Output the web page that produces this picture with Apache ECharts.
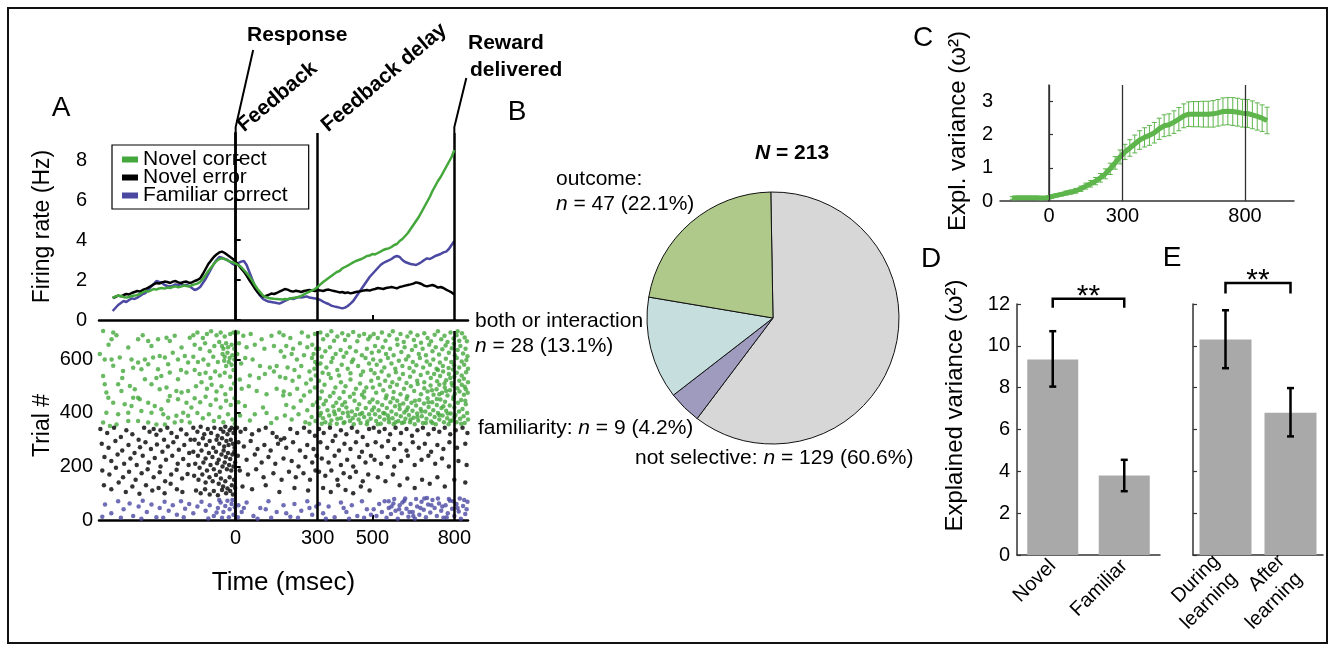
<!DOCTYPE html>
<html>
<head>
<meta charset="utf-8">
<script src="https://cdn.jsdelivr.net/npm/echarts@6/dist/echarts.min.js"></script>
<style>
html,body{margin:0;padding:0;background:#fff;}
#chart{width:1335px;height:650px;}
</style>
</head>
<body>
<div id="chart"></div>
<script>
// ---------- Panel A: mean firing rate (Hz), 10 ms bins ----------
const rateTimes = [
  -450,-440,-430,-420,-410,-400,-390,-380,-370,-360,
  -350,-340,-330,-320,-310,-300,-290,-280,-270,-260,
  -250,-240,-230,-220,-210,-200,-190,-180,-170,-160,
  -150,-140,-130,-120,-110,-100,-90,-80,-70,-60,
  -50,-40,-30,-20,-10,0,10,20,30,40,
  50,60,70,80,90,100,110,120,130,140,
  150,160,170,180,190,200,210,220,230,240,
  250,260,270,280,290,300,310,320,330,340,
  350,360,370,380,390,400,410,420,430,440,
  450,460,470,480,490,500,510,520,530,540,
  550,560,570,580,590,600,610,620,630,640,
  650,660,670,680,690,700,710,720,730,740,
  750,760,770,780,790,800
];
const rateNovelCorrect = [
  1.10,1.18,1.22,1.20,1.15,1.12,1.15,1.20,1.22,1.25,
  1.30,1.38,1.45,1.42,1.48,1.55,1.52,1.58,1.60,1.57,
  1.62,1.60,1.65,1.68,1.63,1.67,1.72,1.70,1.68,1.74,
  1.78,1.82,1.90,2.05,2.25,2.45,2.62,2.80,2.95,3.05,
  3.08,3.05,2.98,2.92,2.88,2.82,2.75,2.65,2.50,2.35,
  2.18,1.98,1.75,1.55,1.38,1.22,1.15,1.10,1.08,1.06,
  1.05,1.04,1.02,1.05,1.04,1.08,1.10,1.12,1.15,1.20,
  1.28,1.35,1.42,1.48,1.55,1.65,1.78,1.90,2.00,2.10,
  2.20,2.30,2.40,2.45,2.58,2.65,2.72,2.80,2.88,2.95,
  3.00,3.05,3.12,3.20,3.22,3.30,3.28,3.35,3.42,3.50,
  3.55,3.58,3.65,3.75,3.80,3.95,4.05,4.20,4.35,4.55,
  4.75,4.95,5.15,5.40,5.65,5.90,6.15,6.45,6.70,6.95,
  7.15,7.40,7.65,7.90,8.15,8.50
];
const rateNovelError = [
  1.10,1.15,1.22,1.18,1.25,1.30,1.28,1.35,1.40,1.45,
  1.42,1.50,1.55,1.62,1.70,1.78,1.85,1.82,1.88,1.92,
  1.90,1.85,1.92,1.95,1.88,1.85,1.90,1.92,1.86,1.88,
  1.95,2.00,2.08,2.30,2.55,2.80,2.98,3.15,3.28,3.38,
  3.42,3.35,3.25,3.15,3.05,2.92,2.75,2.58,2.42,2.22,
  2.00,1.80,1.58,1.40,1.25,1.18,1.20,1.25,1.32,1.30,
  1.35,1.42,1.48,1.55,1.52,1.45,1.42,1.46,1.44,1.40,
  1.45,1.48,1.50,1.47,1.45,1.50,1.48,1.45,1.50,1.52,
  1.48,1.45,1.42,1.38,1.40,1.35,1.38,1.33,1.36,1.40,
  1.42,1.45,1.48,1.50,1.47,1.52,1.55,1.60,1.58,1.55,
  1.60,1.62,1.65,1.62,1.58,1.65,1.68,1.72,1.75,1.78,
  1.82,1.88,1.85,1.80,1.72,1.68,1.72,1.75,1.70,1.62,
  1.65,1.60,1.52,1.45,1.38,1.28
];
const rateFamiliarCorrect = [
  0.45,0.60,0.75,0.85,0.95,0.90,1.00,1.08,1.05,1.12,
  1.20,1.30,1.35,1.50,1.65,1.80,1.95,1.90,1.85,1.75,
  1.70,1.68,1.72,1.78,1.75,1.80,1.72,1.76,1.70,1.60,
  1.50,1.55,1.65,1.85,2.05,2.30,2.55,2.80,3.00,3.15,
  3.12,3.05,3.00,2.90,2.80,2.75,2.85,2.92,2.95,2.75,
  2.40,2.05,1.70,1.40,1.20,1.05,0.98,0.92,0.90,0.88,
  0.85,0.82,0.88,0.95,1.02,1.08,1.05,1.10,1.15,1.12,
  1.15,1.18,1.12,1.10,1.08,1.05,1.00,0.92,0.85,0.80,
  0.72,0.68,0.65,0.62,0.58,0.62,0.70,0.82,0.95,1.15,
  1.35,1.55,1.75,1.95,2.15,2.30,2.45,2.60,2.75,2.85,
  2.92,2.98,3.05,3.15,3.20,3.15,3.00,2.90,2.85,2.80,
  2.78,2.75,2.82,2.90,3.00,3.08,3.05,3.12,3.20,3.25,
  3.30,3.38,3.42,3.55,3.75,3.95
];
const eventTimes = [0, 300, 800];
const rateTickValues = [0, 2, 4, 6, 8];
const timeTickLabels = [0, 300, 500, 800];
const trialTickValues = [0, 200, 400, 600];

// ---------- Panel A: spike raster [time (ms), trial #] ----------
const rasterNovelCorrect = [
  [-485,706],[-448,700],[-454,675],[-436,690],[-393,644],[-357,675],[-320,669],[-308,650],[-284,675],[-253,681],[-241,669],[-223,688],[-198,644],[-168,681],
  [-479,600],[-454,600],[-424,607],[-381,600],[-357,588],[-332,600],[-302,607],[-278,613],[-259,607],[-247,582],[-211,600],[-186,613],[-174,588],
  [-485,538],[-448,576],[-412,557],[-375,569],[-345,563],[-320,582],[-284,563],[-272,538],[-241,551],[-211,526],[-180,551],
  [-479,507],[-473,476],[-430,507],[-418,482],[-387,501],[-369,488],[-351,451],[-332,526],[-308,507],[-278,488],[-253,495],[-241,463],[-217,482],[-198,476],[-174,482],
  [-466,457],[-448,438],[-406,432],[-375,457],[-357,457],[-320,438],[-296,426],[-272,414],[-247,445],[-211,451],[-180,438],[-162,420],
  [-473,401],[-430,395],[-393,401],[-381,426],[-345,407],[-308,401],[-265,395],[-247,382],[-217,389],[-192,401],[-174,389],
  [-485,364],[-460,351],[-436,357],[-393,370],[-357,370],[-320,364],[-290,357],[-259,357],[-223,364],[-198,370],[-168,364],
  [-497,620],[-465,655],[-415,530],[-340,690],[-290,530],[-230,625],[-200,560],
  [-155,690],[-140,700],[-120,680],[-105,695],[-90,705],[-70,690],[-55,700],[-40,685],[-20,695],[-8,700],
  [-150,655],[-130,640],[-112,660],[-95,630],[-78,650],[-60,665],[-50,650],[-45,640],[-35,660],[-28,645],[-15,655],[-5,640],
  [-48,620],[-40,610],[-30,625],[-22,605],[-12,615],[-42,595],[-25,590],[-15,580],[-5,600],[-35,575],
  [-155,610],[-138,590],[-118,600],[-100,580],[-82,610],[-65,590],
  [-150,560],[-132,545],[-110,550],[-92,530],[-75,555],[-58,540],[-40,550],[-20,535],[-8,560],
  [-145,500],[-125,515],[-105,490],[-88,505],[-70,480],[-52,500],[-38,470],[-18,490],[-6,510],
  [-150,455],[-130,440],[-110,460],[-92,430],[-72,450],[-55,420],[-35,445],[-18,430],[-4,455],
  [-140,400],[-120,380],[-98,395],[-80,370],[-60,385],[-45,365],[-28,395],[-12,375],[-3,360],
  [8,700],[28,688],[55,695],[95,675],[131,688],[160,700],
  [12,660],[40,645],[70,655],[105,640],[140,650],[165,630],
  [6,620],[35,605],[62,600],[89,575],[125,570],[150,575],[20,585],
  [52,540],[85,530],[107,545],[140,555],[162,535],[15,525],
  [22,490],[48,500],[77,482],[113,470],[150,490],[174,465],
  [10,440],[34,426],[70,395],[100,420],[113,400],[150,380],[16,390],[52,372],[130,362],
  [175,690],[200,680],[242,700],[265,685],[290,695],
  [185,650],[210,640],[235,660],[262,645],[280,655],[295,640],
  [178,610],[205,620],[224,600],[250,615],[279,605],[291,590],[285,620],
  [190,570],[215,560],[240,575],[270,555],[288,565],[298,580],
  [182,530],[208,520],[232,535],[258,510],[275,525],[293,540],
  [176,480],[198,470],[225,490],[250,465],[272,480],[290,495],
  [185,430],[212,420],[238,445],[262,410],[282,430],[297,440],
  [180,390],[205,375],[230,395],[255,365],[278,385],[292,370],[270,360],
  [310,700],[335,690],[350,705],[372,685],[390,698],[412,690],[430,702],[452,688],[470,695],[492,685],[320,675],[360,670],[400,672],[445,668],[485,675],
  [305,640],[328,630],[345,645],[366,620],[384,635],[405,625],[418,645],[440,630],[462,615],[480,640],[498,625],[315,610],[355,605],[395,610],[430,600],[475,605],
  [310,585],[332,570],[350,590],[372,560],[388,580],[410,565],[425,590],[448,575],[466,555],[488,585],[318,550],[340,545],[378,540],[420,548],[458,542],[495,560],
  [305,520],[325,505],[348,530],[365,495],[385,515],[402,500],[420,525],[440,490],[455,510],[478,495],[496,520],[315,480],[358,475],[395,478],[432,472],[470,480],
  [308,455],[330,445],[345,462],[368,438],[380,455],[400,440],[418,460],[435,445],[452,432],[470,458],[490,440],[322,432],[390,430],[462,468],
  [303,420],[312,400],[320,380],[328,365],[336,410],[342,390],[350,372],[357,425],[363,395],[370,360],[378,412],[385,380],[392,400],[398,365],[405,420],
  [412,388],[418,370],[425,405],[432,358],[438,392],[445,415],[450,375],[457,362],[463,400],[470,385],[476,418],[482,368],[488,395],[494,378],[499,410],
  [315,360],[345,358],[372,378],[395,362],[428,380],[455,395],[480,358],[308,390],[360,405],[410,402],
  [505,695],[520,680],[535,700],[548,670],[562,690],[575,705],[590,675],[603,695],[615,665],[628,685],[640,700],[652,672],[665,690],[678,662],[690,698],
  [702,680],[715,668],[728,692],[740,705],[752,675],[764,688],[775,665],[786,700],[797,678],[808,690],[818,670],[828,698],[838,682],[846,668],[812,705],
  [510,650],[524,630],[538,645],[550,620],[565,640],[578,615],[592,655],[606,628],[618,645],[632,612],[645,635],[658,650],[670,620],[684,640],[696,615],
  [708,655],[720,630],[732,645],[744,618],[756,638],[768,652],[780,625],[791,642],[802,615],[812,635],[822,650],[832,622],[841,640],[848,612],[798,658],
  [503,600],[516,580],[530,595],[544,570],[557,605],[570,585],[584,565],[597,595],[610,575],[623,600],[636,568],[648,590],[661,578],[674,605],[686,570],[699,592],
  [711,580],[723,600],[735,565],[747,588],[758,575],[769,602],[779,568],[789,590],[799,578],[809,605],[818,570],[827,592],[836,580],[844,598],[850,565],[795,562],
  [508,548],[521,530],[534,555],[547,520],[560,540],[573,515],[586,552],[599,528],[612,545],[625,512],[638,535],[651,555],[664,520],[677,542],[690,515],[702,550],[714,530],
  [726,545],[737,518],[748,538],[759,555],[770,522],[780,545],[790,512],[800,535],[809,550],[818,520],[827,540],[835,528],[843,552],[850,515],[785,530],[764,510],[740,560],
  [502,495],[514,475],[527,505],[540,485],[552,465],[565,498],[578,478],[590,505],[603,470],[616,490],[628,462],[641,500],[653,482],[666,508],[678,470],[690,492],[702,480],[713,502],[724,468],
  [735,488],[745,505],[755,475],[765,495],[775,465],[784,485],[793,502],[802,472],[811,492],[819,480],[827,505],[835,468],[842,488],[849,475],[797,460],[770,482],[745,470],[718,485],[838,498],
  [501,450],[506,420],[510,395],[514,370],[519,440],[523,410],[527,385],[531,360],[536,430],[540,400],[544,375],[549,455],[553,418],[557,390],[561,365],[566,440],[570,405],[574,380],[578,358],
  [583,425],[587,395],[591,445],[595,370],[600,415],[604,388],[608,362],[613,435],[617,402],[621,378],[625,452],[630,420],[634,392],[638,365],[643,438],[647,408],[651,382],[655,358],
  [660,428],[664,398],[668,372],[672,448],[677,415],[681,388],[685,362],[689,435],[694,405],[698,378],[702,455],[706,422],[711,395],[715,368],[719,440],[723,410],[728,385],[732,358],
  [736,430],[740,400],[745,375],[749,450],[753,418],[757,390],[762,365],[766,442],[770,408],[774,380],[779,358],[783,428],[787,398],[791,372],[796,452],[800,420],[804,392],[808,365],
  [813,438],[817,405],[821,378],[825,448],[830,415],[834,388],[838,362],[842,432],[847,400],[850,375],[520,358],[560,378],[600,430],[640,375],[680,405],[720,362],[760,425],[800,385],
  [840,445],[545,398],[585,365],[625,410],[665,385],[705,440],[745,392],[785,370],[825,360],[576,455],[616,365],[656,445],[696,362],[736,452],[776,398]
];
const rasterNovelError = [
  [-495,340],[-470,325],[-445,345],[-420,310],[-400,335],[-378,320],[-355,300],[-335,345],[-315,330],[-300,340],[-290,318],[-275,335],[-262,300],[-250,345],[-235,325],[-215,310],[-200,338],[-180,320],[-165,300],
  [-490,285],[-465,270],[-440,295],[-415,260],[-392,280],[-370,250],[-350,272],[-330,290],[-310,265],[-288,282],[-268,255],[-248,275],[-228,290],[-208,262],[-188,280],[-170,250],
  [-480,235],[-455,220],[-432,245],[-408,210],[-385,230],[-362,205],[-340,240],[-318,215],[-296,232],[-275,200],[-255,225],[-232,240],[-212,210],[-192,228],[-172,205],
  [-488,185],[-462,170],[-438,195],[-412,160],[-390,180],[-366,150],[-344,175],[-322,190],[-300,160],[-278,178],[-258,145],[-236,170],[-216,188],[-196,155],[-176,172],
  [-482,130],[-455,115],[-428,140],[-402,105],[-378,125],[-352,98],[-328,130],[-305,110],[-282,120],[-260,100],[-238,135],[-215,115],[-195,105],
  [-155,345],[-140,330],[-128,348],[-115,320],[-102,340],[-90,325],[-78,345],[-66,315],[-55,340],[-45,330],[-38,348],[-30,320],[-22,335],[-15,345],[-8,325],[-3,340],
  [-150,300],[-135,285],[-120,305],[-108,280],[-95,295],[-82,270],[-70,300],[-60,285],[-50,305],[-42,275],[-34,295],[-26,280],[-18,300],[-10,285],[-4,270],
  [-155,255],[-138,240],[-125,260],[-110,230],[-98,250],[-85,235],[-72,255],[-62,225],[-52,245],[-44,260],[-36,235],[-28,250],[-20,228],[-12,245],[-5,255],
  [-148,210],[-132,195],[-118,215],[-105,185],[-92,205],[-80,190],[-68,212],[-58,180],[-48,200],[-40,215],[-32,190],[-24,205],[-16,185],[-8,200],[-2,215],
  [-152,165],[-136,150],[-122,170],[-110,140],[-96,160],[-84,145],[-72,168],[-62,135],[-54,155],[-46,125],[-38,145],[-30,118],[-22,160],[-14,130],[-6,150],[-2,120],
  [-145,110],[-128,100],[-112,115],[-95,95],[-80,108],[-65,92],[-50,112],[-35,100],[-20,108],[-10,95],
  [5,345],[18,330],[35,340],[60,320],[85,335],[110,345],[135,325],[150,310],[165,300],[178,305],[200,340],[225,325],[250,345],[270,330],[290,315],
  [10,290],[30,275],[55,295],[80,265],[105,280],[128,260],[155,285],[185,270],[210,290],[235,260],[262,280],[285,265],
  [8,240],[40,225],[70,245],[95,215],[120,235],[145,210],[175,230],[205,220],[230,200],[255,235],[280,215],[296,240],
  [15,185],[45,170],[75,190],[102,160],[138,175],[168,150],[195,180],[220,160],[248,175],[272,150],[292,185],
  [25,125],[60,115],[110,130],[160,105],[215,120],[265,110],
  [305,340],[322,325],[345,345],[365,315],[385,335],[405,320],[425,345],[445,330],[465,310],[488,340],
  [310,290],[335,270],[355,295],[378,260],[398,285],[420,265],[440,290],[462,255],[482,280],
  [315,230],[340,215],[362,240],[385,205],[408,225],[430,200],[452,235],[475,215],[495,240],
  [305,180],[328,165],[350,185],[372,150],[395,175],[418,160],[440,180],[465,145],[485,170],
  [320,120],[348,105],[375,130],[402,112],[430,100],[458,125],[490,110],
  [505,345],[525,330],[545,340],[565,320],[585,345],[605,325],[625,340],[645,315],[665,335],[685,345],[705,320],[725,340],[745,330],[765,345],[785,320],[805,335],[830,345],[848,325],
  [512,290],[535,275],[558,295],[580,265],[602,285],[625,260],[648,290],[670,270],[692,285],[715,255],[738,280],[760,265],[782,290],[810,270],[840,285],
  [508,225],[532,210],[556,235],[580,200],[605,220],[630,240],[655,205],[680,225],[705,240],[730,210],[755,230],[780,200],[815,220],[845,205],
  [520,160],[548,145],[575,170],[600,130],[628,155],[655,120],[682,150],[710,135],[738,160],[765,125],[800,150],[840,140]
];
const rasterFamiliarCorrect = [
  [-478,58],[-455,25],[-430,70],[-410,40],[-388,62],[-375,15],[-355,50],[-340,72],[-325,30],[-308,58],[-290,10],[-278,45],[-260,68],[-245,35],[-230,55],
  [-215,20],[-200,70],[-185,42],[-170,60],[-155,25],[-140,50],[-125,68],[-110,35],[-95,55],[-80,15],[-65,45],[-55,65],[-45,30],[-38,52],[-30,72],
  [-22,40],[-15,60],[-8,20],[-3,48],[-488,12],[-420,8],[-345,5],[-265,8],[-190,10],[-100,6],[-60,75],[-25,10],[-70,28],[-50,8],[-12,75],
  [10,55],[22,30],[40,65],[65,15],[90,45],[120,70],[150,30],[175,55],[200,12],[215,60],[240,35],[262,70],[280,20],[295,50],[8,10],[30,45],[80,5],[130,8],[185,25],[228,8],[270,45],[110,40],
  [305,60],[320,25],[340,50],[362,10],[385,65],[405,30],[425,55],[445,15],[462,70],[480,40],[495,20],[330,5],[415,5],[470,8],[395,45],
  [505,40],[515,15],[525,60],[535,30],[545,70],[552,8],[560,45],[568,22],[577,62],[585,35],[593,5],[600,55],[608,25],[617,72],[625,42],[632,12],[640,60],
  [648,30],[656,5],[664,50],[672,20],[680,68],[688,38],[696,10],[704,58],[712,28],[720,75],[728,45],[736,15],[744,62],[752,35],[760,8],[768,55],[776,25],
  [784,72],[792,42],[800,15],[808,60],[816,32],[824,5],[832,52],[840,22],[848,68],[580,78],[620,80],[660,78],[700,82],[740,80],[780,78],[820,80],[845,40],
  [560,70],[598,40],[636,30],[676,45],[716,55],[756,50],[796,70],[836,75],[772,10],[812,45],[690,80],[650,15],[610,65],[570,50]
];

// ---------- Panel B: neuron classification ----------
const pieNames = ['not selective', 'familiarity', 'both or interaction', 'outcome'];
const pieLabelHeads = ['not selective: ', 'familiarity: ', 'both or interaction\n', 'outcome:\n'];
const pieCounts = [129, 9, 28, 47];
const pieColors = ['#d7d7d7', '#9f9bbf', '#c7dedf', '#afc98a'];

// ---------- Panel C: explained variance over time ----------
const cTimes = [
  -150,-130,-110,-90,-70,-50,-30,-10,10,30,
  50,70,90,110,130,150,170,190,210,230,
  250,270,290,310,330,350,370,390,410,430,
  450,470,490,510,530,550,570,590,610,630,
  650,670,690,710,730,750,770,790,810,830,
  850,870,890
];
const cMean = [
  0.09,0.10,0.10,0.10,0.10,0.10,0.09,0.10,0.13,0.17,
  0.20,0.24,0.27,0.31,0.37,0.45,0.52,0.60,0.70,0.82,
  0.97,1.15,1.33,1.48,1.60,1.72,1.84,1.92,1.98,2.06,
  2.18,2.27,2.30,2.38,2.47,2.57,2.62,2.62,2.62,2.62,
  2.62,2.63,2.66,2.70,2.71,2.70,2.68,2.65,2.64,2.60,
  2.55,2.50,2.43
];
const cErr = [
  0.04,0.04,0.04,0.04,0.04,0.04,0.04,0.04,0.05,0.05,
  0.05,0.06,0.06,0.07,0.08,0.09,0.10,0.11,0.13,0.15,
  0.17,0.19,0.21,0.23,0.25,0.27,0.28,0.29,0.30,0.31,
  0.32,0.33,0.33,0.34,0.35,0.36,0.37,0.38,0.38,0.39,
  0.39,0.40,0.40,0.41,0.41,0.42,0.42,0.42,0.42,0.42,
  0.41,0.40,0.40
];
const cTickLabels = [0, 300, 800];
const cYTicks = [0, 1, 2, 3];

// ---------- Panels D and E: explained variance (bars with error bars) ----------
const dCategories = ['Novel', 'Familiar'];
const dMeans = [9.35, 3.8];
const dLow = [8.05, 3.05];
const dHigh = [10.7, 4.55];
const eCategories = ['During\nlearning', 'After\nlearning'];
const eMeans = [10.3, 6.8];
const eLow = [8.93, 5.67];
const eHigh = [11.7, 7.98];
const sigText = '**';

// ---------- styling ----------
const FONT = '"Liberation Sans", Arial, Helvetica, sans-serif';
const GREEN = '#43a73c';
const BLACK = '#000000';
const BLUE = '#4b48a2';
const C_GREEN = '#5db54b';
const BAR_GRAY = '#a9a9a9';
const DOT = 4.5;

function zip(xs, ys) { return xs.map((x, i) => [x, ys[i]]); }

const pieTotal = pieCounts.reduce((a, b) => a + b, 0);
const pieLabelPos = [[635, 458], [478, 428], [475, 334], [556, 192]];

function errorBarRenderer(color, width, cap) {
  return function (params, api) {
    const x = api.value(0);
    const lo = api.coord([x, api.value(1)]);
    const hi = api.coord([x, api.value(2)]);
    const st = { stroke: color, lineWidth: width };
    return {
      type: 'group',
      children: [
        { type: 'line', shape: { x1: lo[0], y1: lo[1], x2: hi[0], y2: hi[1] }, style: st },
        { type: 'line', shape: { x1: lo[0] - cap, y1: lo[1], x2: lo[0] + cap, y2: lo[1] }, style: st },
        { type: 'line', shape: { x1: hi[0] - cap, y1: hi[1], x2: hi[0] + cap, y2: hi[1] }, style: st }
      ]
    };
  };
}

function bracketRenderer(params, api) {
  const a = api.coord([api.value(0), api.value(2)]);
  const b = api.coord([api.value(1), api.value(2)]);
  const legA = api.coord([api.value(0), api.value(3)]);
  return {
    type: 'group',
    children: [
      { type: 'polyline', shape: { points: [[a[0], legA[1]], [a[0], a[1]], [b[0], b[1]], [b[0], legA[1]]] },
        style: { stroke: '#000', lineWidth: 2.5, fill: 'none' } },
      { type: 'text', x: (a[0] + b[0]) / 2, y: a[1] - 2,
        style: { text: sigText, fontSize: 30, fontFamily: FONT, fill: '#000', align: 'center', verticalAlign: 'middle' } }
    ]
  };
}

const vLine = (color, width) => ({
  silent: true, symbol: ['none', 'none'], label: { show: false },
  lineStyle: { color: color, width: width, type: 'solid' },
  emphasis: { disabled: true },
  data: eventTimes.map(t => ({ xAxis: t }))
});

const axisBlack = { lineStyle: { color: '#000', width: 2.5 } };
const axisGray = { lineStyle: { color: '#333', width: 1.5 } };
const labelStyle = { color: '#000', fontSize: 20, fontFamily: FONT };

const option = {
  animation: false,
  textStyle: { fontFamily: FONT, color: '#000' },
  grid: [
    { left: 99, top: 133, width: 369, height: 187 },
    { left: 99, top: 331, width: 369, height: 189 },
    { left: 1000, top: 85, width: 294, height: 116 },
    { left: 1017, top: 304, width: 143, height: 251 },
    { left: 1193, top: 304, width: 130, height: 251 }
  ],
  legend: {
    data: ['Novel correct', 'Novel error', 'Familiar correct'],
    orient: 'vertical', left: 112, top: 145,
    icon: 'rect', itemWidth: 16, itemHeight: 6, itemGap: -3,
    padding: [4, 21, 3, 10],
    borderColor: '#000', borderWidth: 1.2,
    selectedMode: false,
    textStyle: { fontSize: 21, color: '#000', fontFamily: FONT }
  },
  xAxis: [
    { gridIndex: 0, type: 'value', min: -500, max: 850,
      axisLine: axisBlack, splitLine: { show: false },
      axisTick: { inside: true, length: 5, lineStyle: { width: 2, color: '#000' }, customValues: [500] },
      axisLabel: { show: false } },
    { gridIndex: 1, type: 'value', min: -500, max: 850,
      axisLine: axisBlack, splitLine: { show: false },
      axisTick: { inside: true, length: 5, lineStyle: { width: 2, color: '#000' }, customValues: [500] },
      axisLabel: Object.assign({ margin: 8, customValues: timeTickLabels }, labelStyle),
      name: 'Time (msec)', nameLocation: 'middle', nameGap: 50,
      nameTextStyle: { fontSize: 26, color: '#000', fontFamily: FONT } },
    { gridIndex: 2, type: 'value', min: -200, max: 1000,
      axisLine: axisGray, splitLine: { show: false }, axisTick: { show: false },
      axisLabel: Object.assign({ margin: 5, customValues: cTickLabels }, labelStyle) },
    { gridIndex: 3, type: 'category', data: dCategories,
      axisLine: axisGray, axisTick: { show: false },
      axisLabel: Object.assign({ rotate: 45, margin: 8, interval: 0 }, labelStyle) },
    { gridIndex: 4, type: 'category', data: eCategories,
      axisLine: axisGray, axisTick: { show: false },
      axisLabel: Object.assign({ rotate: 45, margin: 12, interval: 0, lineHeight: 25 }, labelStyle) }
  ],
  yAxis: [
    { gridIndex: 0, type: 'value', min: 0, max: 9.35,
      axisLine: Object.assign({ show: true }, axisBlack), splitLine: { show: false },
      axisTick: { show: true, inside: true, length: 5, lineStyle: { width: 2, color: '#000' }, customValues: rateTickValues },
      axisLabel: Object.assign({ margin: 12, customValues: rateTickValues }, labelStyle),
      name: 'Firing rate (Hz)', nameLocation: 'middle', nameGap: 45,
      nameTextStyle: { fontSize: 23, color: '#000', fontFamily: FONT } },
    { gridIndex: 1, type: 'value', min: 0, max: 706,
      axisLine: Object.assign({ show: true }, axisBlack), splitLine: { show: false },
      axisTick: { show: true, inside: true, length: 5, lineStyle: { width: 2, color: '#000' }, customValues: [200, 400, 600] },
      axisLabel: Object.assign({ margin: 6, customValues: trialTickValues }, labelStyle),
      name: 'Trial #', nameLocation: 'middle', nameGap: 45,
      nameTextStyle: { fontSize: 23, color: '#000', fontFamily: FONT } },
    { gridIndex: 2, type: 'value', min: 0, max: 3.5,
      axisLine: Object.assign({ show: true }, axisGray), splitLine: { show: false },
      axisTick: { show: true, inside: true, length: 4, lineStyle: { width: 1.2, color: '#333' }, customValues: [1, 2, 3] },
      axisLabel: Object.assign({ margin: 7, customValues: cYTicks }, labelStyle),
      name: 'Expl. variance (ω²)', nameLocation: 'middle', nameGap: 30,
      nameTextStyle: { fontSize: 24, color: '#000', fontFamily: FONT, padding: [0, 0, 0, 24] } },
    { gridIndex: 3, type: 'value', min: 0, max: 12, interval: 2,
      axisLine: Object.assign({ show: true }, axisGray), splitLine: { show: false },
      axisTick: { show: true, inside: true, length: 4, lineStyle: { width: 1.2, color: '#333' } },
      axisLabel: Object.assign({ margin: 7 }, labelStyle),
      name: 'Explained variance (ω²)', nameLocation: 'middle', nameGap: 50,
      nameTextStyle: { fontSize: 24, color: '#000', fontFamily: FONT, padding: [0, 0, 0, 48] } },
    { gridIndex: 4, type: 'value', min: 0, max: 12, interval: 2,
      axisLine: Object.assign({ show: true }, axisGray), splitLine: { show: false },
      axisTick: { show: true, inside: true, length: 4, lineStyle: { width: 1.2, color: '#333' } },
      axisLabel: { show: false } }
  ],
  series: [
    // A: firing rates
    { name: 'Familiar correct', type: 'line', xAxisIndex: 0, yAxisIndex: 0, data: zip(rateTimes, rateFamiliarCorrect),
      showSymbol: false, color: BLUE, lineStyle: { width: 2.5 }, z: 3, silent: true },
    { name: 'Novel error', type: 'line', xAxisIndex: 0, yAxisIndex: 0, data: zip(rateTimes, rateNovelError),
      showSymbol: false, color: BLACK, lineStyle: { width: 2.5 }, z: 4, silent: true },
    { name: 'Novel correct', type: 'line', xAxisIndex: 0, yAxisIndex: 0, data: zip(rateTimes, rateNovelCorrect),
      showSymbol: false, color: GREEN, lineStyle: { width: 2.5 }, z: 5, silent: true,
      markLine: vLine('#000', 2.5) },
    // A: raster
    { name: 'Novel correct', type: 'scatter', xAxisIndex: 1, yAxisIndex: 1, data: rasterNovelCorrect,
      symbolSize: DOT, itemStyle: { color: GREEN }, silent: true },
    { name: 'Novel error', type: 'scatter', xAxisIndex: 1, yAxisIndex: 1, data: rasterNovelError,
      symbolSize: DOT, itemStyle: { color: BLACK }, silent: true },
    { name: 'Familiar correct', type: 'scatter', xAxisIndex: 1, yAxisIndex: 1, data: rasterFamiliarCorrect,
      symbolSize: DOT, itemStyle: { color: BLUE }, silent: true, markLine: vLine('#000', 2.5) },
    // B: pie
    { type: 'pie', center: [773, 318], radius: 126, startAngle: 91, clockwise: true, silent: true,
      data: pieNames.map((n, i) => ({ name: n, value: pieCounts[i], itemStyle: { color: pieColors[i] } })),
      itemStyle: { borderColor: '#111', borderWidth: 1 },
      label: {
        show: true, color: '#000', fontSize: 21, fontFamily: FONT, lineHeight: 25,
        formatter: p => pieLabelHeads[p.dataIndex] + '{i|n} = ' + p.value + ' (' + (p.value / pieTotal * 100).toFixed(1) + '%)',
        rich: { i: { fontStyle: 'italic', fontSize: 21, fontFamily: FONT, color: '#000', lineHeight: 25 } }
      },
      labelLine: { show: false },
      labelLayout: p => ({ x: pieLabelPos[p.dataIndex][0], y: pieLabelPos[p.dataIndex][1], align: 'left', verticalAlign: 'middle' })
    },
    // C: error bars + mean
    { type: 'custom', xAxisIndex: 2, yAxisIndex: 2, silent: true, z: 2,
      data: cTimes.map((t, i) => [t, cMean[i] - cErr[i], cMean[i] + cErr[i]]),
      encode: { x: 0, y: [1, 2] },
      renderItem: errorBarRenderer(C_GREEN, 1, 2.5) },
    { type: 'line', xAxisIndex: 2, yAxisIndex: 2, data: zip(cTimes, cMean), silent: true, z: 3,
      showSymbol: false, color: C_GREEN, lineStyle: { width: 5 },
      markLine: vLine('#333', 1.3) },
    // D
    { type: 'bar', xAxisIndex: 3, yAxisIndex: 3, data: dMeans, barWidth: 51, silent: true,
      itemStyle: { color: BAR_GRAY } },
    { type: 'custom', xAxisIndex: 3, yAxisIndex: 3, silent: true, clip: false, z: 3,
      data: dCategories.map((c, i) => [i, dLow[i], dHigh[i]]),
      encode: { x: 0, y: [1, 2] },
      renderItem: errorBarRenderer('#000', 2.5, 3.5) },
    { type: 'custom', xAxisIndex: 3, yAxisIndex: 3, silent: true, clip: false, z: 3,
      data: [[0, 1, 12.25, 11.82]], encode: { x: [0, 1], y: [2, 3] },
      renderItem: bracketRenderer },
    // E
    { type: 'bar', xAxisIndex: 4, yAxisIndex: 4, data: eMeans, barWidth: 52, silent: true,
      itemStyle: { color: BAR_GRAY } },
    { type: 'custom', xAxisIndex: 4, yAxisIndex: 4, silent: true, clip: false, z: 3,
      data: eCategories.map((c, i) => [i, eLow[i], eHigh[i]]),
      encode: { x: 0, y: [1, 2] },
      renderItem: errorBarRenderer('#000', 2.5, 3.5) },
    { type: 'custom', xAxisIndex: 4, yAxisIndex: 4, silent: true, clip: false, z: 3,
      data: [[0, 1, 13.0, 12.5]], encode: { x: [0, 1], y: [2, 3] },
      renderItem: bracketRenderer }
  ]
};

const chart = echarts.init(document.getElementById('chart'));
chart.setOption(option);

// annotation layer: frame, panel letters, event names and their leader lines
const p0 = chart.convertToPixel({ gridIndex: 0 }, [eventTimes[0], 9.35]);
const p800 = chart.convertToPixel({ gridIndex: 0 }, [eventTimes[2], 9.35]);
const rot = 40 * Math.PI / 180;
const bold = { fontSize: 21, fontWeight: 'bold', fontFamily: FONT, fill: '#000' };
const letter = (t, x, y) => ({ type: 'text', x: x, y: y,
  style: { text: t, fontSize: 28, fontFamily: FONT, fill: '#000', align: 'center', verticalAlign: 'middle' } });

chart.setOption({
  graphic: [
    { type: 'rect', shape: { x: 8, y: 8, width: 1319, height: 635 }, style: { fill: 'none', stroke: '#111', lineWidth: 2 } },
    letter('A', 61, 108), letter('B', 517, 112), letter('C', 923, 38), letter('D', 931, 259), letter('E', 1172, 258),
    { type: 'polyline', shape: { points: [[p0[0], p0[1]], [p0[0], p0[1] - 6], [p0[0] + 17.5, 50]] },
      style: { stroke: '#000', lineWidth: 2, fill: 'none' } },
    { type: 'polyline', shape: { points: [[p800[0], p800[1]], [p800[0], p800[1] - 6], [p800[0] + 12, 78]] },
      style: { stroke: '#000', lineWidth: 2, fill: 'none' } },
    { type: 'text', x: 247, y: 35, style: Object.assign({ text: 'Response', align: 'left', verticalAlign: 'middle' }, bold) },
    { type: 'text', x: 247, y: 136, rotation: rot, style: Object.assign({ text: 'Feedback', align: 'left', verticalAlign: 'bottom' }, bold) },
    { type: 'text', x: 331, y: 136, rotation: rot, style: Object.assign({ text: 'Feedback delay', align: 'left', verticalAlign: 'bottom' }, bold) },
    { type: 'text', x: 468, y: 43, style: Object.assign({ text: 'Reward', align: 'left', verticalAlign: 'middle' }, bold) },
    { type: 'text', x: 470, y: 70, style: Object.assign({ text: 'delivered', align: 'left', verticalAlign: 'middle' }, bold) },
    { type: 'text', x: 792, y: 153,
      style: { text: '{i|N} = ' + pieTotal, align: 'center', verticalAlign: 'middle',
        fontSize: 21, fontWeight: 'bold', fontFamily: FONT, fill: '#000',
        rich: { i: { fontStyle: 'italic', fontWeight: 'bold', fontSize: 21, fontFamily: FONT, fill: '#000' } } } }
  ]
});
</script>
</body>
</html>
